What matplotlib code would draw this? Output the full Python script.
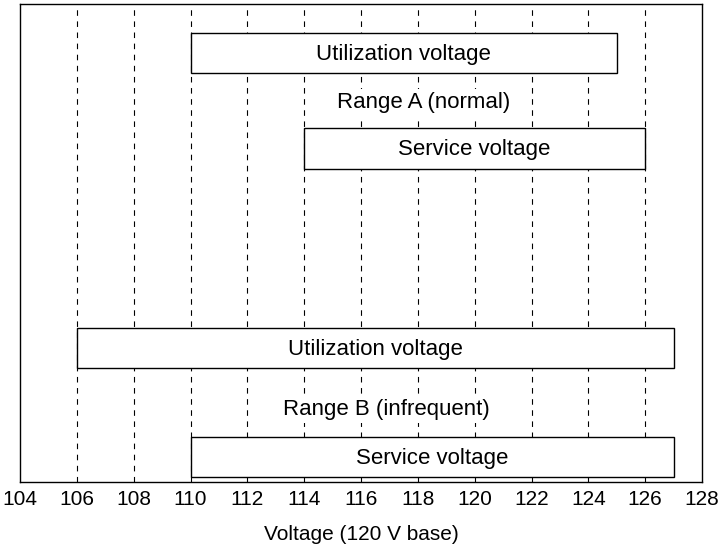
import matplotlib.pyplot as plt
import numpy as np

plt.rcParams["font.family"] = ["Liberation Sans", "DejaVu Sans"]

# voltage bands (120 V base)
bar_labels = ["Utilization voltage", "Service voltage",
              "Utilization voltage", "Service voltage"]
bar_start = [110, 114, 106, 110]
bar_end = [125, 126, 127, 127]
bar_rows = [1.23, 3.62, 8.64, 11.37]

range_labels = ["Range A (normal)", "Range B (infrequent)"]
range_rows = [2.61, 10.33]
range_centers = [118.2, 116.9]

xticks = np.arange(104, 129, 2)
grid_x = np.arange(106, 127, 2)

fig = plt.figure(figsize=(7.22, 5.46), dpi=100)
ax = fig.add_axes([20 / 722, 64 / 546, 682 / 722, 478 / 546])

for gx in grid_x:
    ax.axvline(gx, color="black", lw=0.8, ls=(0, (5, 5)), zorder=1)

for lab, s, e, r in zip(bar_labels, bar_start, bar_end, bar_rows):
    ax.barh(r, e - s, left=s, height=1.02, color="white",
            edgecolor="black", lw=1.0, zorder=2)
    ax.text((s + e) / 2, r + 0.03, lab, ha="center", va="center",
            fontsize=16, zorder=3)

for lab, c, r in zip(range_labels, range_centers, range_rows):
    ax.text(c, r, lab, ha="center", va="baseline", fontsize=16,
            bbox=dict(facecolor="white", edgecolor="none", pad=2), zorder=3)

ax.set_xlim(104, 128)
ax.set_ylim(12, 0)
ax.set_xticks(xticks)
ax.set_yticks([])
ax.tick_params(axis="x", length=0, labelsize=15, pad=6)
ax.set_xlabel("Voltage (120 V base)", fontsize=15, labelpad=11)
for sp in ax.spines.values():
    sp.set_linewidth(1.0)

fig.savefig("out.png", dpi=100)
